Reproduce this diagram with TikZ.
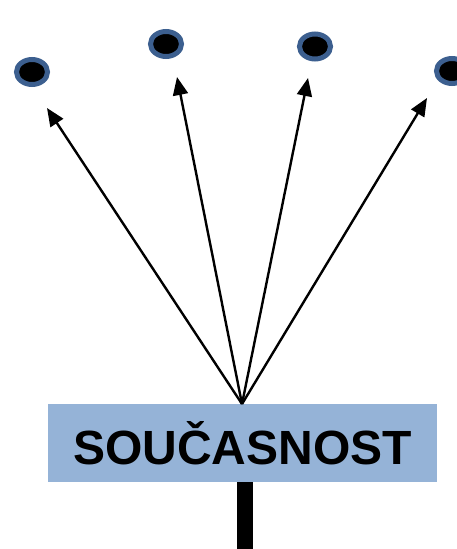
\documentclass[tikz,border=0pt]{standalone}
\usepackage{fontspec}
\setmainfont{Liberation Sans}
\usetikzlibrary{arrows.meta,shapes.geometric}
\definecolor{ringblue}{HTML}{3C5F8F}
\definecolor{boxblue}{HTML}{95B3D7}
\tikzset{
  dot/.style={ellipse, draw=ringblue, line width=5pt, fill=black, minimum width=31pt, minimum height=25pt, inner sep=0pt},
  arr/.style={line width=2.4pt, -{Triangle[length=18pt,width=15pt]}},
}
\begin{document}
\begin{tikzpicture}[x=1pt,y=-1pt]
\useasboundingbox (0,0) rectangle (456,549);
\node[dot] (d1) at (32,72) {};
\node[dot] (d2) at (166,44) {};
\node[dot] (d3) at (315,46.5) {};
\node[dot] (d4) at (452,71) {};
\node[fill=boxblue, minimum width=389pt, minimum height=78pt, inner sep=0pt, font=\bfseries\fontsize{48}{50}\selectfont] (box) at (242.5,443) {SOUČASNOST};
\coordinate (src) at (242,404);
\coordinate (t1) at (47,108);
\coordinate (t2) at (177,77);
\coordinate (t3) at (308,78);
\coordinate (t4) at (427,98);
\coordinate (bot) at (245,549);
\draw[arr] (src) -- (t1);
\draw[arr] (src) -- (t2);
\draw[arr] (src) -- (t3);
\draw[arr] (src) -- (t4);
\draw[line width=16pt] (245,482) -- (bot);
\end{tikzpicture}
\end{document}
